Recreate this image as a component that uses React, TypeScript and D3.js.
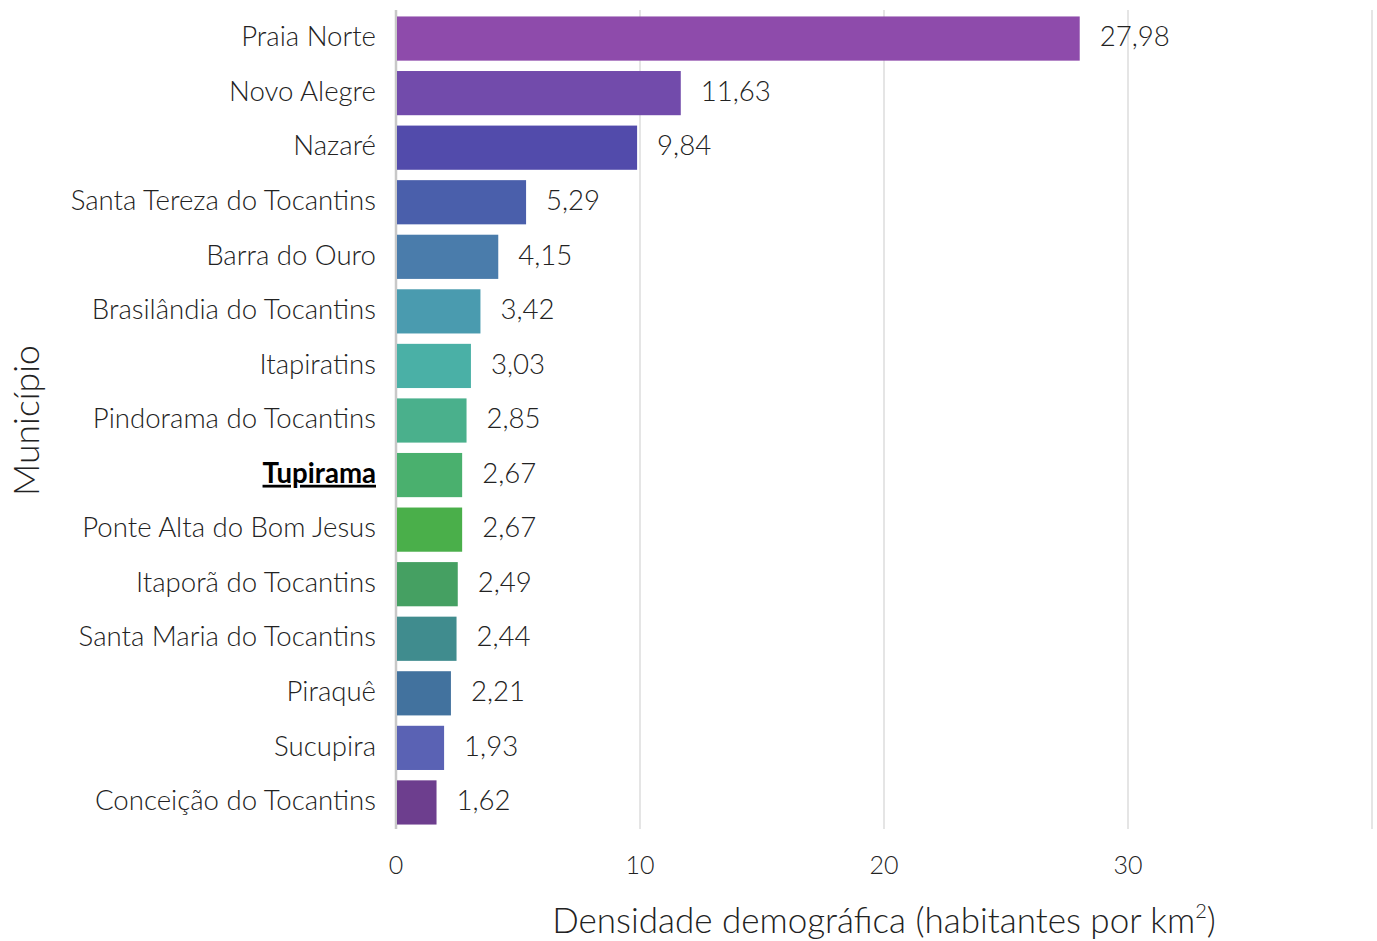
import React, { useRef, useEffect } from 'react';
import * as d3 from 'd3';

const municipios = [
  'Praia Norte',
  'Novo Alegre',
  'Nazaré',
  'Santa Tereza do Tocantins',
  'Barra do Ouro',
  'Brasilândia do Tocantins',
  'Itapiratins',
  'Pindorama do Tocantins',
  'Tupirama',
  'Ponte Alta do Bom Jesus',
  'Itaporã do Tocantins',
  'Santa Maria do Tocantins',
  'Piraquê',
  'Sucupira',
  'Conceição do Tocantins'
];

const densidade = [27.98, 11.63, 9.84, 5.29, 4.15, 3.42, 3.03, 2.85, 2.67, 2.67, 2.49, 2.44, 2.21, 1.93, 1.62];

const cores = [
  '#8E4BAB', '#724BAB', '#524BAB', '#4A5FAB', '#4A7CAB',
  '#4A9BAF', '#4AB0A6', '#4AB08C', '#4AB06E', '#4AAF4A',
  '#45A062', '#408C8E', '#42729E', '#5A62B4', '#6D3E8E'
];

const xTicks = [0, 10, 20, 30, 40];
const destaque = 'Tupirama';

const App: React.FC = () => {
  const svgRef = useRef<SVGSVGElement>(null);

  useEffect(() => {
    document.body.style.margin = '0';
    if (!svgRef.current) return;
    const W = 1377, H = 941;
    const margin = { top: 11, right: 5, bottom: 111, left: 396 };
    const svg = d3.select(svgRef.current).attr('width', W).attr('height', H);
    svg.selectAll('*').remove();
    const font = 'Lato, "Open Sans", sans-serif';
    const txt = '#222';

    const x = d3.scaleLinear().domain([0, 40]).range([margin.left, margin.left + 976]);
    const y = d3
      .scaleBand()
      .domain(municipios)
      .range([margin.top, H - margin.bottom])
      .paddingInner(0.19)
      .paddingOuter(0.1);

    const data = municipios.map((m, i) => ({ m, v: densidade[i], c: cores[i] }));

    // grid
    svg
      .append('g')
      .selectAll('line')
      .data(xTicks)
      .enter()
      .append('line')
      .attr('x1', (d) => x(d))
      .attr('x2', (d) => x(d))
      .attr('y1', 10)
      .attr('y2', 829)
      .attr('stroke', (d) => (d === 0 ? '#c8c8c8' : '#dcdcdc'))
      .attr('stroke-width', (d) => (d === 0 ? 2.5 : 1.5));

    // bars
    svg
      .append('g')
      .selectAll('rect')
      .data(data)
      .enter()
      .append('rect')
      .attr('x', x(0) + 1)
      .attr('y', (d) => y(d.m)!)
      .attr('width', (d) => x(d.v) - x(0))
      .attr('height', y.bandwidth())
      .attr('fill', (d) => d.c);

    // value labels
    svg
      .append('g')
      .selectAll('text')
      .data(data)
      .enter()
      .append('text')
      .attr('x', (d) => x(d.v) + 21)
      .attr('y', (d) => y(d.m)! + y.bandwidth() / 2)
      .attr('dy', '0.28em')
      .attr('font-family', font)
      .attr('font-weight', 300)
      .attr('font-size', 27.6)
      .attr('fill', txt)
      .text((d) => d.v.toFixed(2).replace('.', ','));

    // category labels
    svg
      .append('g')
      .selectAll('text')
      .data(data)
      .enter()
      .append('text')
      .attr('x', 376)
      .attr('y', (d) => y(d.m)! + y.bandwidth() / 2)
      .attr('dy', '0.28em')
      .attr('text-anchor', 'end')
      .attr('font-family', font)
      .attr('font-weight', (d) => (d.m === destaque ? 700 : 300))
      .attr('text-decoration', (d) => (d.m === destaque ? 'underline' : null))
      .attr('font-size', 27.6)
      .attr('fill', (d) => (d.m === destaque ? '#000' : txt))
      .text((d) => d.m);

    // x tick labels
    svg
      .append('g')
      .selectAll('text')
      .data(xTicks.slice(0, 4))
      .enter()
      .append('text')
      .attr('x', (d) => x(d))
      .attr('y', 865)
      .attr('dy', '0.36em')
      .attr('text-anchor', 'middle')
      .attr('font-family', font)
      .attr('font-weight', 300)
      .attr('font-size', 25)
      .attr('fill', txt)
      .text((d) => String(d));

    // axis titles
    const xt = svg
      .append('text')
      .attr('x', x(20))
      .attr('y', 933)
      .attr('text-anchor', 'middle')
      .attr('font-family', font)
      .attr('font-weight', 300)
      .attr('font-size', 35)
      .attr('fill', txt);
    xt.append('tspan').text('Densidade demográfica (habitantes por km');
    xt.append('tspan').attr('font-size', 20).attr('dy', -15).text('2');
    xt.append('tspan').attr('dy', 15).text(')');

    svg
      .append('text')
      .attr('transform', `translate(39,${(y.range()[0] + y.range()[1]) / 2}) rotate(-90)`)
      .attr('text-anchor', 'middle')
      .attr('font-family', font)
      .attr('font-weight', 300)
      .attr('font-size', 35.5)
      .attr('fill', txt)
      .text('Município');
  }, []);

  return <svg ref={svgRef} style={{ display: 'block' }} />;
};

export default App;
